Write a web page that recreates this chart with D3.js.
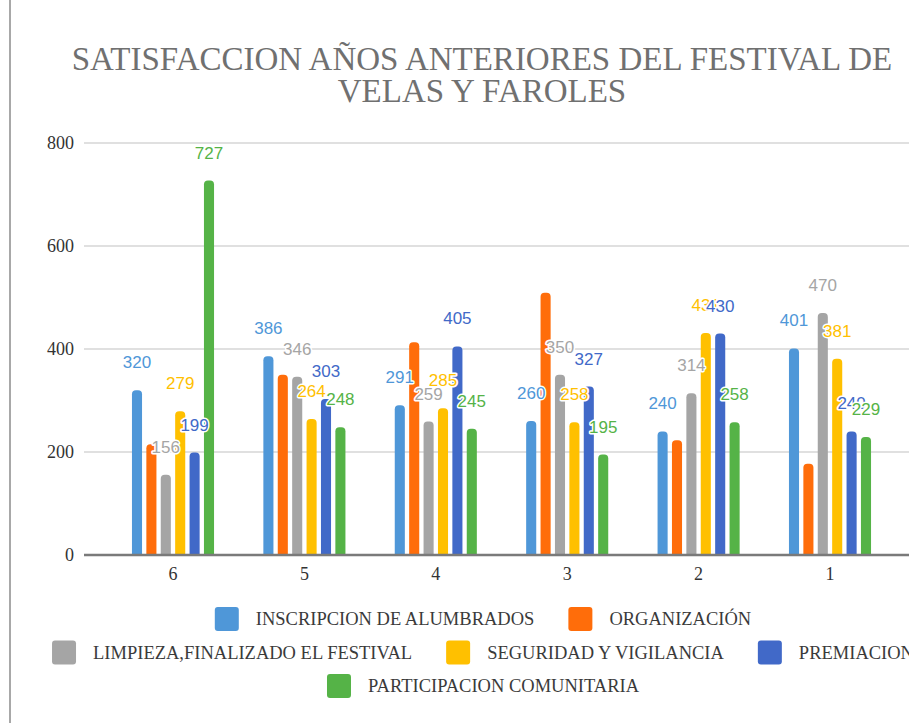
<!DOCTYPE html>
<html>
<head>
<meta charset="utf-8">
<script src="https://cdn.jsdelivr.net/npm/d3@7"></script>
<style>
  body { margin: 0; background: #fff; }
  svg { display: block; }
</style>
</head>
<body>
<div id="chart"></div>
<script>
// Data
const categories = ["6", "5", "4", "3", "2", "1"];
const seriesNames = [
  "INSCRIPCION DE ALUMBRADOS",
  "ORGANIZACIÓN",
  "LIMPIEZA,FINALIZADO EL FESTIVAL",
  "SEGURIDAD Y VIGILANCIA",
  "PREMIACION",
  "PARTICIPACION COMUNITARIA"
];
const inscripcion = [320, 386, 291, 260, 240, 401];
const organizacion = [215, 350, 413, 509, 223, 177];
const limpieza = [156, 346, 259, 350, 314, 470];
const seguridad = [279, 264, 285, 258, 431, 381];
const premiacion = [199, 303, 405, 327, 430, 240];
const participacion = [727, 248, 245, 195, 258, 229];
const yTicks = [0, 200, 400, 600, 800];
const titleLines = ["SATISFACCION AÑOS ANTERIORES DEL FESTIVAL DE", "VELAS Y FAROLES"];
// the source shows no labels for the orange series
const labelled = [true, false, true, true, true, true];
const legendRows = [[0, 1], [2, 3, 4], [5]];

const colors = ["#4f97d8", "#ff6d0a", "#a5a5a5", "#ffc000", "#4169c8", "#55b347"];
const allValues = [inscripcion, organizacion, limpieza, seguridad, premiacion, participacion];

const width = 909, height = 723;
const serif = "Liberation Serif, Times New Roman, serif";

const svg = d3.select("#chart").append("svg")
  .attr("width", width)
  .attr("height", height);

// page edge on the left
svg.append("line")
  .attr("x1", 10).attr("x2", 10)
  .attr("y1", 0).attr("y2", height)
  .attr("stroke", "#a8a8a8")
  .attr("stroke-width", 2);

// Title
svg.append("g").selectAll("text")
  .data(titleLines)
  .enter().append("text")
  .attr("x", 482)
  .attr("y", (d, i) => 70 + i * 32)
  .attr("text-anchor", "middle")
  .style("font-family", serif)
  .style("font-size", "33px")
  .attr("fill", "#707070")
  .text(d => d);

// Scales
const plotLeft = 84;
const y = d3.scaleLinear().domain([0, 800]).range([555, 143]);
const x0 = d3.scaleBand().domain(categories).range([107.3, 895.7]);
const x1 = d3.scaleBand().domain(d3.range(seriesNames.length))
  .range([22.5, 108.9]).paddingInner(0.3).paddingOuter(0.15);

// Gridlines
svg.append("g").selectAll("line")
  .data(yTicks.filter(t => t !== 0))
  .enter().append("line")
  .attr("x1", plotLeft).attr("x2", width)
  .attr("y1", d => y(d)).attr("y2", d => y(d))
  .attr("stroke", "#d6d6d6")
  .attr("stroke-width", 1.5);

// Y axis labels
const yAxis = svg.append("g")
  .attr("transform", `translate(${plotLeft},0)`)
  .call(d3.axisLeft(y).tickValues(yTicks).tickSize(0).tickPadding(10));
yAxis.select(".domain").remove();
yAxis.selectAll("text")
  .style("font-family", serif)
  .style("font-size", "18px")
  .attr("fill", "#333");

// Bars
function barPath(x, top, w, base) {
  const r = Math.min(4, base - top);
  return `M${x},${base}V${top + r}A${r},${r} 0 0 1 ${x + r},${top}H${x + w - r}A${r},${r} 0 0 1 ${x + w},${top + r}V${base}Z`;
}

const groups = svg.append("g").selectAll("g")
  .data(categories)
  .enter().append("g")
  .attr("transform", d => `translate(${x0(d)},0)`);

groups.selectAll("path")
  .data((c, ci) => allValues.map((vals, si) => ({ si, v: vals[ci] })))
  .enter().append("path")
  .attr("d", d => barPath(x1(d.si), y(d.v), x1.bandwidth(), y(0)))
  .attr("fill", d => colors[d.si]);

// Baseline
svg.append("line")
  .attr("x1", plotLeft).attr("x2", width)
  .attr("y1", y(0)).attr("y2", y(0))
  .attr("stroke", "#7a7a7a")
  .attr("stroke-width", 2.5);

// X axis labels
const xAxis = svg.append("g")
  .attr("transform", `translate(0,${y(0)})`)
  .call(d3.axisBottom(x0).tickSize(0).tickPadding(12));
xAxis.select(".domain").remove();
xAxis.selectAll("text")
  .style("font-family", serif)
  .style("font-size", "18px")
  .attr("fill", "#333");

// Data labels (drawn series by series, with white halo)
const labelLayer = svg.append("g");
allValues.forEach((vals, si) => {
  if (!labelled[si]) return;
  labelLayer.append("g").selectAll("text")
    .data(vals)
    .enter().append("text")
    .attr("x", (v, ci) => x0(categories[ci]) + x1(si) + x1.bandwidth() / 2)
    .attr("y", v => y(v) - 22)
    .attr("text-anchor", "middle")
    .style("font-family", "Liberation Sans, Arial, sans-serif")
    .style("font-size", "17px")
    .attr("fill", colors[si])
    .attr("stroke", "#fff")
    .attr("stroke-width", 3)
    .attr("stroke-linejoin", "round")
    .attr("paint-order", "stroke")
    .text(v => v);
});

// Legend
const legend = svg.append("g");
const sw = 24, gapText = 17, gapItem = 34, legendCenter = 483;
legendRows.forEach((row, ri) => {
  const cy = 619 + ri * 33.5;
  const rowG = legend.append("g");
  let cursor = 0;
  row.forEach(si => {
    const item = rowG.append("g").attr("transform", `translate(${cursor},0)`);
    item.append("rect")
      .attr("x", 0).attr("y", cy - sw / 2)
      .attr("width", sw).attr("height", sw)
      .attr("rx", 3)
      .attr("fill", colors[si]);
    const t = item.append("text")
      .attr("x", sw + gapText)
      .attr("y", cy + 6)
      .style("font-family", serif)
      .style("font-size", "18.5px")
      .attr("fill", "#3a3a3a")
      .text(seriesNames[si]);
    cursor += sw + gapText + t.node().getComputedTextLength() + gapItem;
  });
  const rowWidth = cursor - gapItem;
  rowG.attr("transform", `translate(${legendCenter - rowWidth / 2},0)`);
});
</script>
</body>
</html>
